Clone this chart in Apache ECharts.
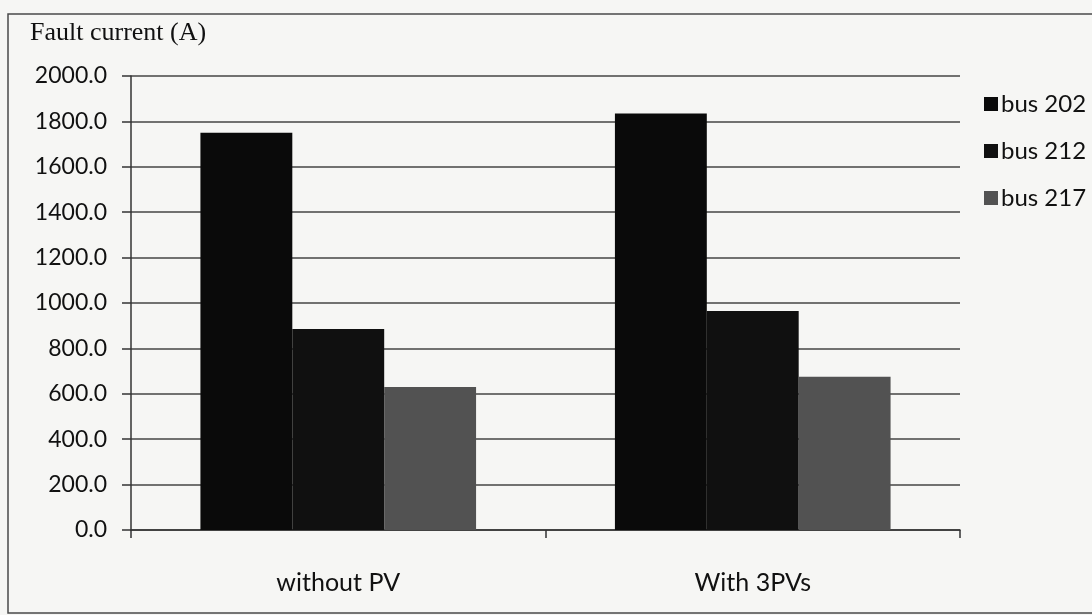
<!DOCTYPE html>
<html><head><meta charset="utf-8">
<script src="https://cdn.jsdelivr.net/npm/echarts@6/dist/echarts.min.js"></script>
<style>html,body{margin:0;padding:0;background:#f6f6f4;}#c{width:1092px;height:615px;}</style>
</head><body><div id="c"></div>
<script>
var categories = ['without PV', 'With 3PVs'];
var bus202 = [1750, 1835];
var bus212 = [885, 965];
var bus217 = [630, 675];
var seriesNames = ['bus 202', 'bus 212', 'bus 217'];
var colors = ['#0a0a0a', '#101010', '#525252'];

var chart = echarts.init(document.getElementById('c'));
chart.setOption({
  backgroundColor: '#f6f6f4',
  animation: false,
  graphic: [
    {type: 'rect', shape: {x: 8, y: 14, width: 1100, height: 599}, style: {fill: 'none', stroke: '#4a4a4a', lineWidth: 1.5}},
    {type: 'text', left: 30, top: 20, style: {text: 'Fault current (A)', font: '26px "Liberation Serif"', fill: '#111'}}
  ],
  legend: {
    orient: 'vertical', left: 979, top: 87, itemGap: 23, itemWidth: 14, itemHeight: 14,
    icon: 'rect',
    textStyle: {fontFamily: 'Lato', fontSize: 24, lineHeight: 24, color: '#111', padding: [0,0,0,-2]},
    data: seriesNames
  },
  grid: {left: 131, right: 132, top: 76, bottom: 85},
  xAxis: {
    type: 'category', data: categories,
    axisLine: {lineStyle: {color: '#333', width: 1.5}},
    axisTick: {show: true, length: 8, lineStyle: {color: '#333', width: 1.5}},
    axisLabel: {fontFamily: 'Lato', fontSize: 25, color: '#111', margin: 40}
  },
  yAxis: {
    type: 'value', min: 0, max: 2000, interval: 200,
    axisLine: {show: true, lineStyle: {color: '#333', width: 1.5}},
    axisTick: {show: true, length: 9, lineStyle: {color: '#333', width: 1.5}},
    splitLine: {lineStyle: {color: '#444', width: 1.5}},
    axisLabel: {fontFamily: 'Lato', fontSize: 23, color: '#111', margin: 24,
      formatter: function (v) { return v.toFixed(1); }}
  },
  series: [
    {name: seriesNames[0], type: 'bar', data: bus202, barGap: '0%', barCategoryGap: '33.5%', itemStyle: {color: colors[0]}},
    {name: seriesNames[1], type: 'bar', data: bus212, barGap: '0%', barCategoryGap: '33.5%', itemStyle: {color: colors[1]}},
    {name: seriesNames[2], type: 'bar', data: bus217, barGap: '0%', barCategoryGap: '33.5%', itemStyle: {color: colors[2]}}
  ]
});
</script></body></html>
